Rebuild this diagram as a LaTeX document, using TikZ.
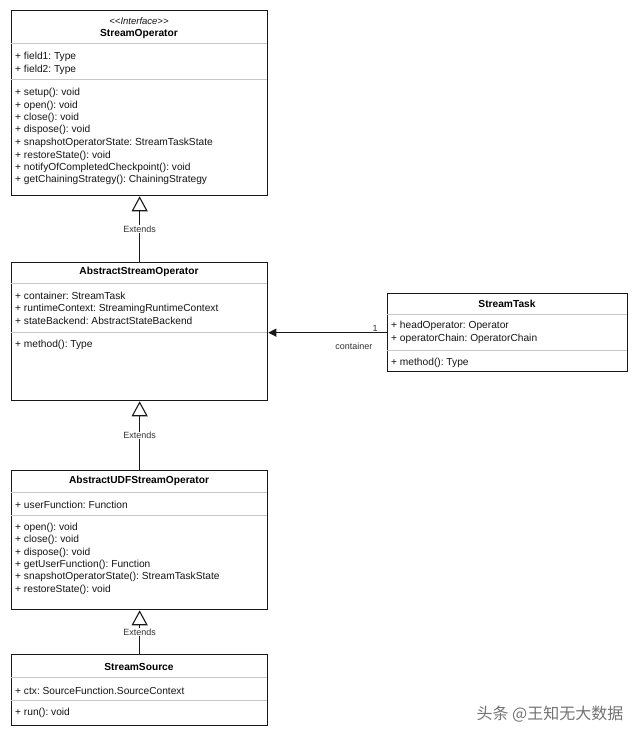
\documentclass[tikz,border=0pt]{standalone}
\usepackage{fontspec}
\setmainfont{Liberation Sans}
\newfontfamily\cjk{Noto Sans CJK SC}
\usetikzlibrary{arrows.meta}
\frenchspacing

\tikzset{
  classbox/.style={draw=black!90, line width=1.3pt, anchor=north west, inner sep=0pt, minimum width=256pt},
  sep/.style={draw=black!22, line width=1pt},
  member/.style={anchor=west, inner sep=0pt, yshift=-1.5pt, font=\fontsize{10.2}{12}\selectfont, text=black!92},
  title/.style={inner sep=0pt, yshift=-1.5pt, font=\fontsize{10.2}{12}\selectfont\bfseries, text=black},
  extends/.style={-{Triangle[open,length=15pt,width=16pt]}, line width=1.1pt, draw=black!90},
  assoc/.style={-{Triangle[length=8pt,width=8pt]}, line width=1.1pt, draw=black!90},
  lbl/.style={fill=white, inner sep=0.5pt, font=\fontsize{9}{10}\selectfont, text=black!80}
}

\begin{document}
\begin{tikzpicture}[x=1pt,y=-1pt]
\useasboundingbox (0,0) rectangle (640,738);

% StreamOperator
\node[classbox, minimum height=185pt] (op) at (11,10) {};
\node[member, anchor=center, font=\fontsize{9.5}{11}\selectfont\itshape] (opstereo) at (139,20) {<{}<Interface>{}>};
\node[title] (optitle) at (139,32) {StreamOperator};
\draw[sep] (11,44) -- (267,44);
\node[member] (opf1) at (15,55) {+ field1: Type};
\node[member] (opf2) at (15,68) {+ field2: Type};
\draw[sep] (11,80) -- (267,80);
\node[member] (opm1) at (15,91) {+ setup(): void};
\node[member] (opm2) at (15,104) {+ open(): void};
\node[member] (opm3) at (15,116) {+ close(): void};
\node[member] (opm4) at (15,128) {+ dispose(): void};
\node[member] (opm5) at (15,141) {+ snapshotOperatorState: StreamTaskState};
\node[member] (opm6) at (15,154) {+ restoreState(): void};
\node[member] (opm7) at (15,166) {+ notifyOfCompletedCheckpoint(): void};
\node[member] (opm8) at (15,178) {+ getChainingStrategy(): ChainingStrategy};

% AbstractStreamOperator
\node[classbox, minimum height=138pt] (abs) at (11,262) {};
\node[title] (abstitle) at (139,270) {AbstractStreamOperator};
\draw[sep] (11,283) -- (267,283);
\node[member] (absf1) at (15,294) {+ container: StreamTask};
\node[member] (absf2) at (15,307) {+ runtimeContext: StreamingRuntimeContext};
\node[member] (absf3) at (15,319) {+ stateBackend: AbstractStateBackend};
\draw[sep] (11,332) -- (267,332);
\node[member] (absm1) at (15,343) {+ method(): Type};

% AbstractUDFStreamOperator
\node[classbox, minimum height=139pt] (udf) at (11,470) {};
\node[title] (udftitle) at (139,479) {AbstractUDFStreamOperator};
\draw[sep] (11,492) -- (267,492);
\node[member] (udff1) at (15,503) {+ userFunction: Function};
\draw[sep] (11,515) -- (267,515);
\node[member] (udfm1) at (15,526) {+ open(): void};
\node[member] (udfm2) at (15,538) {+ close(): void};
\node[member] (udfm3) at (15,551) {+ dispose(): void};
\node[member] (udfm4) at (15,563) {+ getUserFunction(): Function};
\node[member] (udfm5) at (15,575) {+ snapshotOperatorState(): StreamTaskState};
\node[member] (udfm6) at (15,588) {+ restoreState(): void};

% StreamSource
\node[classbox, minimum height=71pt] (src) at (11,654) {};
\node[title] (srctitle) at (139,665) {StreamSource};
\draw[sep] (11,677) -- (267,677);
\node[member] (srcf1) at (15,689) {+ ctx: SourceFunction.SourceContext};
\draw[sep] (11,700) -- (267,700);
\node[member] (srcm1) at (15,711) {+ run(): void};

% StreamTask
\node[classbox, minimum width=240pt, minimum height=78pt] (task) at (387,293) {};
\node[title] (tasktitle) at (507,302) {StreamTask};
\draw[sep] (387,314) -- (627,314);
\node[member] (taskf1) at (391,324) {+ headOperator: Operator};
\node[member] (taskf2) at (391,337) {+ operatorChain: OperatorChain};
\draw[sep] (387,350) -- (627,350);
\node[member] (taskm1) at (391,361) {+ method(): Type};

% inheritance
\draw[extends] (abs.north) -- node[lbl] {Extends} (op.south);
\draw[extends] (udf.north) -- node[lbl] {Extends} (abs.south);
\draw[extends] (src.north) -- node[lbl] {Extends} (udf.south);

% association
\draw[assoc] (task.west) -- node[pos=0.1, above, lbl, fill=none] {1}
  node[pos=0.28, below=9pt, lbl, fill=none] {container} (task.west -| abs.east);

\node[text=black!55, font=\cjk\fontsize{16}{16}\selectfont] (mark) at (550,714) {头条 @王知无大数据};
\end{tikzpicture}
\end{document}
